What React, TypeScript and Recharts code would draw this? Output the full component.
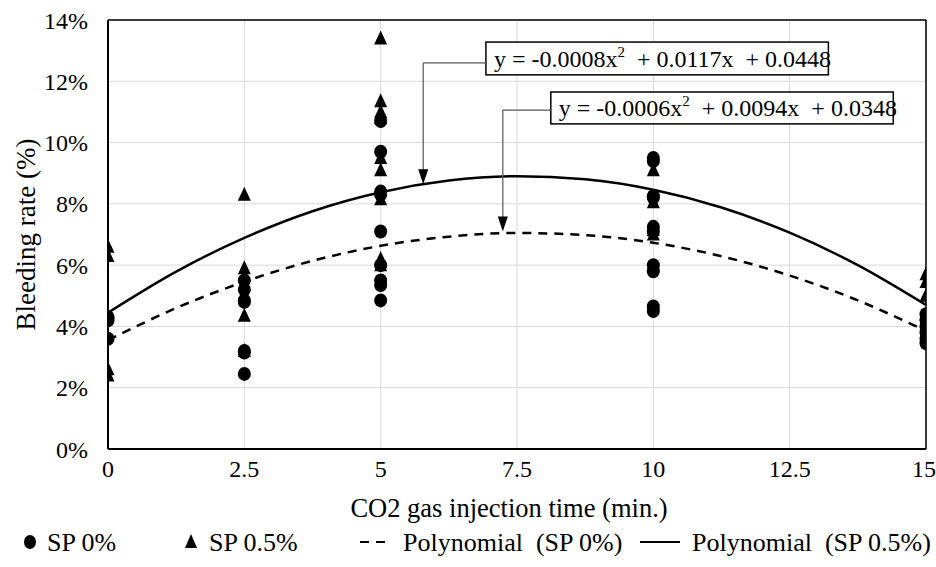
import React from 'react';
import {
  ComposedChart, Scatter, Line, XAxis, YAxis, CartesianGrid, Legend,
  ReferenceLine, ReferenceArea, ReferenceDot, Label,
} from 'recharts';

const xTicks = [0, 2.5, 5, 7.5, 10, 12.5, 15];
const yTicks = [0, 2, 4, 6, 8, 10, 12, 14];

// SP 0% measured bleeding rate (%) vs injection time (min.)
const sp0Points = [
  { x: 0, y: 4.3 }, { x: 0, y: 4.2 }, { x: 0, y: 3.6 },
  { x: 2.5, y: 5.5 }, { x: 2.5, y: 5.2 }, { x: 2.5, y: 4.85 }, { x: 2.5, y: 4.8 },
  { x: 2.5, y: 3.2 }, { x: 2.5, y: 3.15 }, { x: 2.5, y: 2.45 },
  { x: 5, y: 10.7 }, { x: 5, y: 9.7 }, { x: 5, y: 8.4 }, { x: 5, y: 8.3 },
  { x: 5, y: 7.1 }, { x: 5, y: 6.0 }, { x: 5, y: 5.5 }, { x: 5, y: 5.35 }, { x: 5, y: 4.85 },
  { x: 10, y: 9.5 }, { x: 10, y: 9.4 }, { x: 10, y: 8.25 }, { x: 10, y: 8.2 },
  { x: 10, y: 7.25 }, { x: 10, y: 7.1 }, { x: 10, y: 6.0 }, { x: 10, y: 5.8 },
  { x: 10, y: 4.65 }, { x: 10, y: 4.5 },
  { x: 15, y: 4.4 }, { x: 15, y: 4.2 }, { x: 15, y: 4.0 }, { x: 15, y: 3.8 },
  { x: 15, y: 3.6 }, { x: 15, y: 3.45 },
];

// SP 0.5% measured bleeding rate (%)
const sp05Points = [
  { x: 0, y: 6.6 }, { x: 0, y: 6.3 }, { x: 0, y: 2.6 }, { x: 0, y: 2.4 },
  { x: 2.5, y: 8.3 }, { x: 2.5, y: 5.9 }, { x: 2.5, y: 5.65 }, { x: 2.5, y: 4.35 }, { x: 2.5, y: 3.2 },
  { x: 5, y: 13.4 }, { x: 5, y: 11.35 }, { x: 5, y: 11.0 }, { x: 5, y: 10.8 },
  { x: 5, y: 9.5 }, { x: 5, y: 9.1 }, { x: 5, y: 8.15 }, { x: 5, y: 6.2 }, { x: 5, y: 6.0 },
  { x: 10, y: 9.1 }, { x: 10, y: 8.05 }, { x: 10, y: 7.15 }, { x: 10, y: 7.0 },
  { x: 15, y: 5.7 }, { x: 15, y: 5.45 }, { x: 15, y: 5.0 }, { x: 15, y: 4.4 },
];

// Trendlines
const trendTimes = [0, 1.25, 2.5, 3.75, 5, 6.25, 7.5, 8.75, 10, 11.25, 12.5, 13.75, 15];
const trendSp0 = [3.55, 4.6, 5.46, 6.14, 6.63, 6.93, 7.05, 6.98, 6.73, 6.29, 5.66, 4.85, 3.85];
const trendSp05 = [4.45, 5.79, 6.89, 7.76, 8.38, 8.76, 8.9, 8.8, 8.46, 7.88, 7.06, 6.0, 4.7];

const eqSp05 = ['y = -0.0008x', '2', '  + 0.0117x  + 0.0448'];
const eqSp0 = ['y = -0.0006x', '2', '  + 0.0094x  + 0.0348'];

const trendSp0Data = trendTimes.map((t, i) => ({ x: t, y: trendSp0[i] }));
const trendSp05Data = trendTimes.map((t, i) => ({ x: t, y: trendSp05[i] }));

const FONT = 'Liberation Serif';

const CircleMark = (p: any) => <ellipse cx={p.cx} cy={p.cy} rx={6.5} ry={7} fill="#000" />;
const TriMark = (p: any) => (
  <polygon points={`${p.cx},${p.cy - 8} ${p.cx - 6.5},${p.cy + 6} ${p.cx + 6.5},${p.cy + 6}`} fill="#000" />
);
const ArrowDown = (p: any) => (
  <polygon points={`${p.cx},${p.cy} ${p.cx - 5},${p.cy - 15} ${p.cx + 5},${p.cy - 15}`} fill="#000" />
);

const makeBox = (parts: string[]) => (p: any) => (
  <g>
    <rect x={p.x} y={p.y} width={p.width} height={p.height} fill="#fff" stroke="#000" strokeWidth={1.5} />
    <text x={p.x + 8} y={p.y + p.height - 8} fontFamily={FONT} fontSize={24} fill="#000" style={{ whiteSpace: 'pre', fontFamily: FONT }}>
      {parts[0]}
      <tspan dy={-10} fontSize={15}>{parts[1]}</tspan>
      <tspan dy={10}>{parts[2]}</tspan>
    </text>
  </g>
);

const legendText = { fontFamily: FONT, fontSize: 26, whiteSpace: 'pre' as const };

const LegendContent = () => (
  <svg width={936} height={40} style={{ display: 'block' }}>
    <ellipse cx={30} cy={20} rx={6} ry={7} fill="#000" />
    <polygon points="191,12 185,26 197,26" fill="#000" />
    <line x1={360} y1={20} x2={392} y2={20} stroke="#000" strokeWidth={2} strokeDasharray="9 7" />
    <line x1={640} y1={20} x2={680} y2={20} stroke="#000" strokeWidth={2} />
    <text x={47} y={29} style={legendText}>SP 0%</text>
    <text x={209} y={29} style={legendText}>SP 0.5%</text>
    <text x={403} y={29} style={legendText}>Polynomial  (SP 0%)</text>
    <text x={692} y={29} style={legendText}>Polynomial  (SP 0.5%)</text>
  </svg>
);

export default function App() {
  return (
    <div style={{ position: 'absolute', left: 0, top: 0, background: '#fff', fontFamily: FONT }}>
      <ComposedChart
        width={936}
        height={567}
        margin={{ top: 20, right: 10, bottom: 5, left: 0 }}
        style={{ fontFamily: FONT }}
      >
        <CartesianGrid stroke="#d9d9d9" strokeWidth={1} />
        <XAxis
          type="number"
          dataKey="x"
          domain={[0, 15]}
          ticks={xTicks}
          allowDataOverflow
          height={73}
          tickSize={0}
          tickMargin={11}
          axisLine={{ stroke: '#000', strokeWidth: 2 }}
          tick={{ fill: '#000', fontSize: 24, fontFamily: FONT }}
        >
          <Label
            content={(p: any) => (
              <text x={p.viewBox.x + p.viewBox.width / 2 - 8} y={p.viewBox.y + 68} textAnchor="middle" style={{ fontFamily: FONT, fontSize: 26.5 }} fill="#000">
                CO2 gas injection time (min.)
              </text>
            )}
          />
        </XAxis>
        <YAxis
          type="number"
          domain={[0, 14]}
          ticks={yTicks}
          width={108}
          tickSize={0}
          tickMargin={20}
          tickFormatter={(v: number) => `${v}%`}
          axisLine={{ stroke: '#000', strokeWidth: 2 }}
          tick={{ fill: '#000', fontSize: 24, fontFamily: FONT }}
        >
          <Label
            content={(p: any) => {
              const cx = 26;
              const cy = p.viewBox.y + p.viewBox.height / 2;
              return (
                <text x={cx} y={cy} transform={`rotate(-90, ${cx}, ${cy})`} textAnchor="middle" dominantBaseline="central" style={{ fontFamily: FONT, fontSize: 27 }} fill="#000">
                  Bleeding rate (%)
                </text>
              );
            }}
          />
        </YAxis>
        <ReferenceLine y={14} stroke="#000" strokeWidth={1.5} />
        <ReferenceLine x={15} stroke="#000" strokeWidth={1.5} />

        <Line data={trendSp0Data} dataKey="y" type="monotone" stroke="#000" strokeWidth={2.5} strokeDasharray="9 7" dot={false} isAnimationActive={false} name="Polynomial (SP 0%)" />
        <Line data={trendSp05Data} dataKey="y" type="monotone" stroke="#000" strokeWidth={2.5} dot={false} isAnimationActive={false} name="Polynomial (SP 0.5%)" />
        <Scatter data={sp0Points} dataKey="y" shape={CircleMark} isAnimationActive={false} name="SP 0%" />
        <Scatter data={sp05Points} dataKey="y" shape={TriMark} isAnimationActive={false} name="SP 0.5%" />

        {/* leader for SP 0.5% equation */}
        <ReferenceLine segment={[{ x: 5.78, y: 12.6 }, { x: 6.93, y: 12.6 }]} stroke="#555" strokeWidth={1.2} />
        <ReferenceLine segment={[{ x: 5.78, y: 12.6 }, { x: 5.78, y: 8.75 }]} stroke="#555" strokeWidth={1.2} />
        <ReferenceDot x={5.78} y={8.64} shape={ArrowDown} />
        <ReferenceArea x1={6.93} x2={13.21} y1={12.21} y2={13.28} shape={makeBox(eqSp05)} />

        {/* leader for SP 0% equation */}
        <ReferenceLine segment={[{ x: 7.24, y: 11.06 }, { x: 8.12, y: 11.06 }]} stroke="#555" strokeWidth={1.2} />
        <ReferenceLine segment={[{ x: 7.24, y: 11.06 }, { x: 7.24, y: 7.2 }]} stroke="#555" strokeWidth={1.2} />
        <ReferenceDot x={7.24} y={7.1} shape={ArrowDown} />
        <ReferenceArea x1={8.12} x2={14.4} y1={10.61} y2={11.65} shape={makeBox(eqSp0)} />

        <Legend verticalAlign="bottom" height={40} content={<LegendContent />} />
      </ComposedChart>
    </div>
  );
}
